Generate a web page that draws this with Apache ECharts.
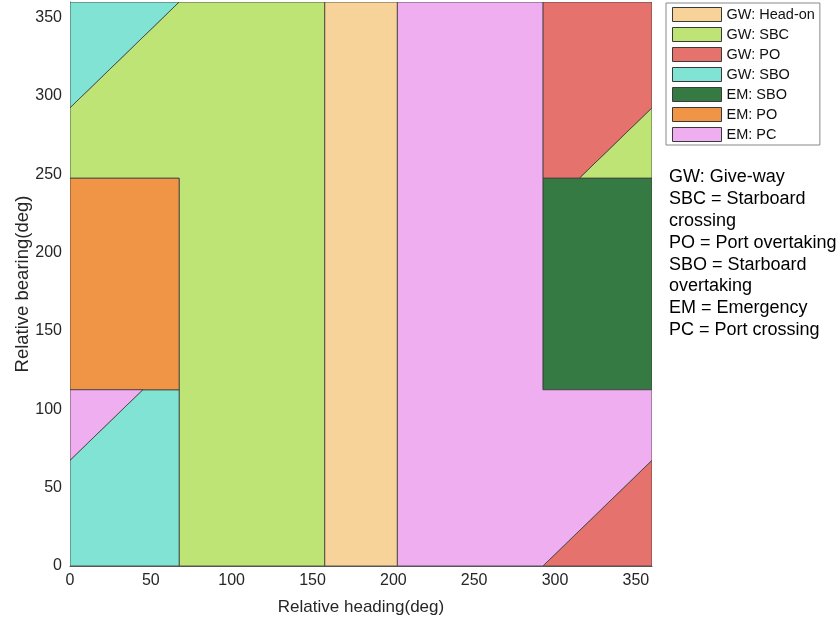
<!DOCTYPE html>
<html><head><meta charset="utf-8">
<script src="https://cdn.jsdelivr.net/npm/echarts@6/dist/echarts.min.js"></script>
<style>html,body{margin:0;padding:0;background:#fff}#c{width:840px;height:620px}</style>
</head><body><div id="c"></div>
<script>
// Region names and colours
const names = ['GW: Head-on','GW: SBC','GW: PO','GW: SBO','EM: SBO','EM: PO','EM: PC'];
const colors = ['#F7D399','#BFE476','#E5726D','#80E3D3','#357A42','#F09546','#EFAEF0'];
// Polygons (relative heading, relative bearing) in degrees
const gwHeadOn = [[[157.5,0],[202.5,0],[202.5,360],[157.5,360]]];
const gwSBC = [
  [[0,247.5],[67.5,247.5],[67.5,0],[157.5,0],[157.5,360],[67.5,360],[0,292.5]],
  [[315,247.5],[360,247.5],[360,292.5]]
];
const gwPO = [
  [[292.5,247.5],[315,247.5],[360,292.5],[360,360],[292.5,360]],
  [[292.5,0],[360,0],[360,67.5]]
];
const gwSBO = [
  [[0,292.5],[67.5,360],[0,360]],
  [[0,0],[67.5,0],[67.5,112.5],[45,112.5],[0,67.5]]
];
const emSBO = [[[292.5,112.5],[360,112.5],[360,247.5],[292.5,247.5]]];
const emPO = [[[0,112.5],[67.5,112.5],[67.5,247.5],[0,247.5]]];
const emPC = [
  [[0,67.5],[45,112.5],[0,112.5]],
  [[202.5,0],[292.5,0],[360,67.5],[360,112.5],[292.5,112.5],[292.5,360],[202.5,360]]
];
const polySets = [gwHeadOn, gwSBC, gwPO, gwSBO, emSBO, emPO, emPC];
const xTicks = [0,50,100,150,200,250,300,350];
const yTicks = [0,50,100,150,200,250,300,350];
const notes = ['GW: Give-way','SBC = Starboard','crossing','PO = Port overtaking','SBO = Starboard','overtaking','EM = Emergency','PC = Port crossing'];

const FONT = 'Liberation Sans, Arial, Helvetica, sans-serif';
const chart = echarts.init(document.getElementById('c'));
const series = polySets.map((polys, k) => ({
  type: 'custom',
  name: names[k],
  itemStyle: {color: colors[k], borderColor: '#3a3a3a', borderWidth: 1},
  data: polys.map((p, i) => [i]),
  encode: {x: -1, y: -1},
  clip: true,
  renderItem: function (params, api) {
    const poly = polys[params.dataIndex];
    return {
      type: 'polygon',
      shape: {points: poly.map(pt => api.coord(pt))},
      style: {fill: colors[k], stroke: '#3a3a3a', lineWidth: 0.8}
    };
  }
}));

chart.setOption({
  animation: false,
  backgroundColor: '#fff',
  grid: {left: 70, top: 2, width: 582, height: 564, containLabel: false, outerBoundsMode: 'none'},
  xAxis: {
    type: 'value', min: 0, max: 360, interval: 50,
    name: 'Relative heading(deg)', nameLocation: 'middle', nameGap: 33, nameMoveOverlap: false,
    nameTextStyle: {fontSize: 17, color: '#262626', fontFamily: FONT},
    axisLine: {show: true, lineStyle: {color: '#555', width: 1}},
    axisTick: {show: false}, splitLine: {show: false},
    axisLabel: {fontSize: 16, color: '#262626', fontFamily: FONT, margin: 7,
      formatter: v => xTicks.includes(v) ? String(v) : ''}
  },
  yAxis: {
    type: 'value', min: 0, max: 360, interval: 50,
    name: 'Relative bearing(deg)', nameLocation: 'middle', nameGap: 38, nameMoveOverlap: false,
    nameTextStyle: {fontSize: 18.5, color: '#262626', fontFamily: FONT},
    axisLine: {show: true, lineStyle: {color: '#555', width: 1}},
    axisTick: {show: false}, splitLine: {show: false},
    axisLabel: {fontSize: 16, color: '#262626', fontFamily: FONT, margin: 8,
      formatter: v => yTicks.includes(v) ? String(v) : ''}
  },
  legend: {
    orient: 'vertical', left: 666, top: 3,
    data: names,
    icon: 'rect', itemWidth: 49, itemHeight: 14, itemGap: 5,
    padding: [4, 5, 3, 6],
    borderColor: '#888', borderWidth: 1, backgroundColor: '#fff',
    textStyle: {fontSize: 14.5, color: '#111', fontFamily: FONT},
    itemStyle: {borderColor: '#3a3a3a', borderWidth: 1}
  },
  graphic: notes.map((t, i) => ({
    type: 'text', left: 669, top: 168 + i * 21.9,
    style: {text: t, fontSize: 18, fill: '#000', fontFamily: FONT}
  })),
  series: series
});
</script></body></html>
